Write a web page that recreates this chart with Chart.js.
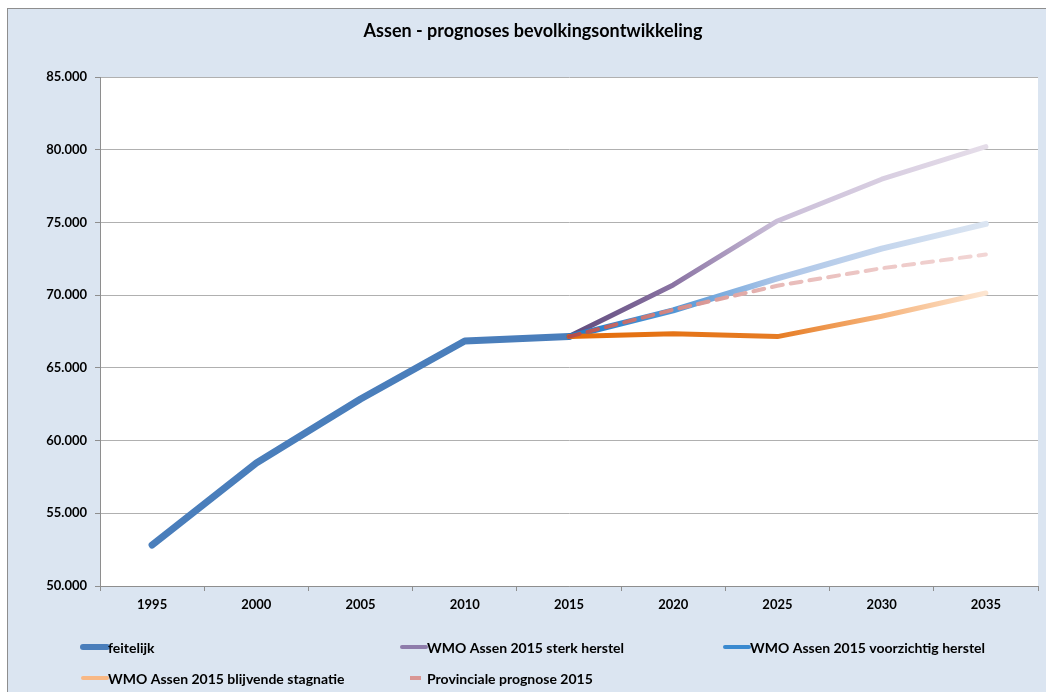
<!DOCTYPE html>
<html>
<head>
<meta charset="utf-8">
<script src="https://cdn.jsdelivr.net/npm/chart.js@4"></script>
<style>
  html, body { margin: 0; padding: 0; background: #fff; }
  #wrap {
    position: absolute; left: 7px; top: 8px;
    width: 1038px; height: 683px;
    border-left: 1px solid #8e8e8e; border-top: 1px solid #8e8e8e;
    background: #dbe5f1;
  }
  canvas { display: block; }
</style>
</head>
<body>
<div id="wrap"><canvas id="chart" width="1038" height="683"></canvas></div>
<script>
const years = ['1995', '2000', '2005', '2010', '2015', '2020', '2025', '2030', '2035'];
const feitelijk = [52820, 58460, 62860, 66850, 67150, null, null, null, null];
const sterkHerstel = [null, null, null, null, 67150, 70700, 75100, 77970, 80210];
const voorzichtigHerstel = [null, null, null, null, 67150, 68950, 71150, 73200, 74900];
const blijvendeStagnatie = [null, null, null, null, 67150, 67350, 67150, 68550, 70150];
const provinciale = [null, null, null, null, 67150, 69000, 70650, 71850, 72800];
const yTicks = [50000, 55000, 60000, 65000, 70000, 75000, 80000, 85000];

const FONT = 'Lato, "Open Sans", sans-serif';

// gradient from 2015 to 2035 like the faded forecast lines
function fade(stops) {
    return function (context) {
        const chart = context.chart;
        if (!chart.chartArea) return stops[0][1];
        const x = chart.scales.x;
        const x0 = x.getPixelForValue(4);
        const x1 = x.getPixelForValue(8);
        const g = chart.ctx.createLinearGradient(x0, 0, x1, 0);
        stops.forEach(s => g.addColorStop(s[0], s[1]));
        return g;
    };
}

function nl(v) {
    return String(v).replace(/\B(?=(\d{3})+(?!\d))/g, '.');
}

const plotBg = {
    id: 'plotBg',
    beforeDraw(chart) {
        const { ctx, chartArea: a } = chart;
        ctx.save();
        ctx.fillStyle = '#ffffff';
        ctx.fillRect(a.left, a.top, a.right - a.left, a.bottom - a.top);
        ctx.restore();
    }
};

// legend in three fixed columns, as in the spreadsheet chart
const gridLegend = {
    id: 'gridLegend',
    afterDraw(chart) {
        const ctx = chart.ctx;
        const cols = [73, 392, 715];
        const rows = [638, 669];
        const swatch = [
            { c: '#4a7ebb', w: 6 },
            { c: '#8e7cab', w: 4 },
            { c: '#3a8ad0', w: 4 },
            { c: '#f8b885', w: 4 },
            { c: '#d99694', w: 4, dash: true }
        ];
        ctx.save();
        ctx.font = 'bold 14px ' + FONT;
        ctx.textBaseline = 'middle';
        ctx.fillStyle = '#000';
        chart.data.datasets.forEach((ds, i) => {
            const x = cols[i % 3];
            const y = rows[Math.floor(i / 3)];
            const s = swatch[i];
            ctx.strokeStyle = s.c;
            ctx.lineWidth = s.w;
            ctx.lineCap = s.dash ? 'butt' : 'round';
            ctx.beginPath();
            if (s.dash) {
                ctx.moveTo(x + 10, y);
                ctx.lineTo(x + 21, y);
            } else {
                ctx.moveTo(x + 2, y);
                ctx.lineTo(x + 26, y);
            }
            ctx.stroke();
            ctx.fillText(ds.label, x + 27, y + 1);
        });
        ctx.restore();
    }
};

new Chart(document.getElementById('chart'), {
    type: 'line',
    data: {
        labels: years,
        datasets: [
            {
                label: 'feitelijk',
                data: feitelijk,
                borderColor: '#4a7ebb',
                borderWidth: 7,
                order: 4
            },
            {
                label: 'WMO Assen 2015 sterk herstel',
                data: sterkHerstel,
                borderColor: fade([[0, '#5f4a7c'], [0.25, '#8a73a3'], [0.5, '#cbbfd9'], [1, '#e5dde9']]),
                borderWidth: 5,
                order: 3
            },
            {
                label: 'WMO Assen 2015 voorzichtig herstel',
                data: voorzichtigHerstel,
                borderColor: fade([[0, '#1d7bca'], [0.25, '#5296d6'], [0.5, '#adc6e8'], [1, '#dbe5f2']]),
                borderWidth: 6,
                order: 2
            },
            {
                label: 'WMO Assen 2015 blijvende stagnatie',
                data: blijvendeStagnatie,
                borderColor: fade([[0, '#e46c0a'], [0.5, '#e67c24'], [0.75, '#f6b47c'], [1, '#fde6d2']]),
                borderWidth: 5,
                order: 1
            },
            {
                label: 'Provinciale prognose 2015',
                data: provinciale,
                borderColor: fade([[0, '#b34a48'], [0.25, '#d48a87'], [0.5, '#e8bbb9'], [1, '#f2d6d5']]),
                borderWidth: 4,
                borderDash: [11, 8],
                order: 0
            }
        ].map(d => Object.assign({
            pointRadius: 0,
            pointHoverRadius: 0,
            borderCapStyle: 'round',
            borderJoinStyle: 'round',
            tension: 0,
            fill: false
        }, d))
    },
    options: {
        responsive: false,
        animation: false,
        layout: { padding: { left: 20, right: 8, top: 0, bottom: 0 } },
        plugins: {
            legend: { display: false },
            tooltip: { enabled: false },
            title: {
                display: true,
                text: 'Assen - prognoses bevolkingsontwikkeling',
                color: '#000',
                font: { family: FONT, size: 18, weight: 'bold', lineHeight: 1.2 },
                padding: { top: 11.2, bottom: 35.2 }
            }
        },
        scales: {
            x: {
                offset: true,
                afterFit(s) { s.height = 106; },
                grid: {
                    offset: true,
                    drawOnChartArea: false,
                    drawTicks: true,
                    tickLength: 5,
                    color: '#8e8e8e'
                },
                border: { color: '#8e8e8e', width: 1 },
                ticks: {
                    color: '#000',
                    padding: 6,
                    font: { family: FONT, size: 13, weight: 'bold' }
                }
            },
            y: {
                min: 50000,
                max: 85000,
                afterFit(s) { s.width = 72; },
                afterBuildTicks(s) { s.ticks = yTicks.map(v => ({ value: v })); },
                grid: {
                    color: '#b0b0b0',
                    tickLength: 5,
                    tickColor: '#8e8e8e'
                },
                border: { color: '#8e8e8e', width: 1 },
                ticks: {
                    color: '#000',
                    padding: 8,
                    font: { family: FONT, size: 13, weight: 'bold' },
                    callback: v => nl(v)
                }
            }
        }
    },
    plugins: [plotBg, gridLegend]
});
</script>
</body>
</html>
